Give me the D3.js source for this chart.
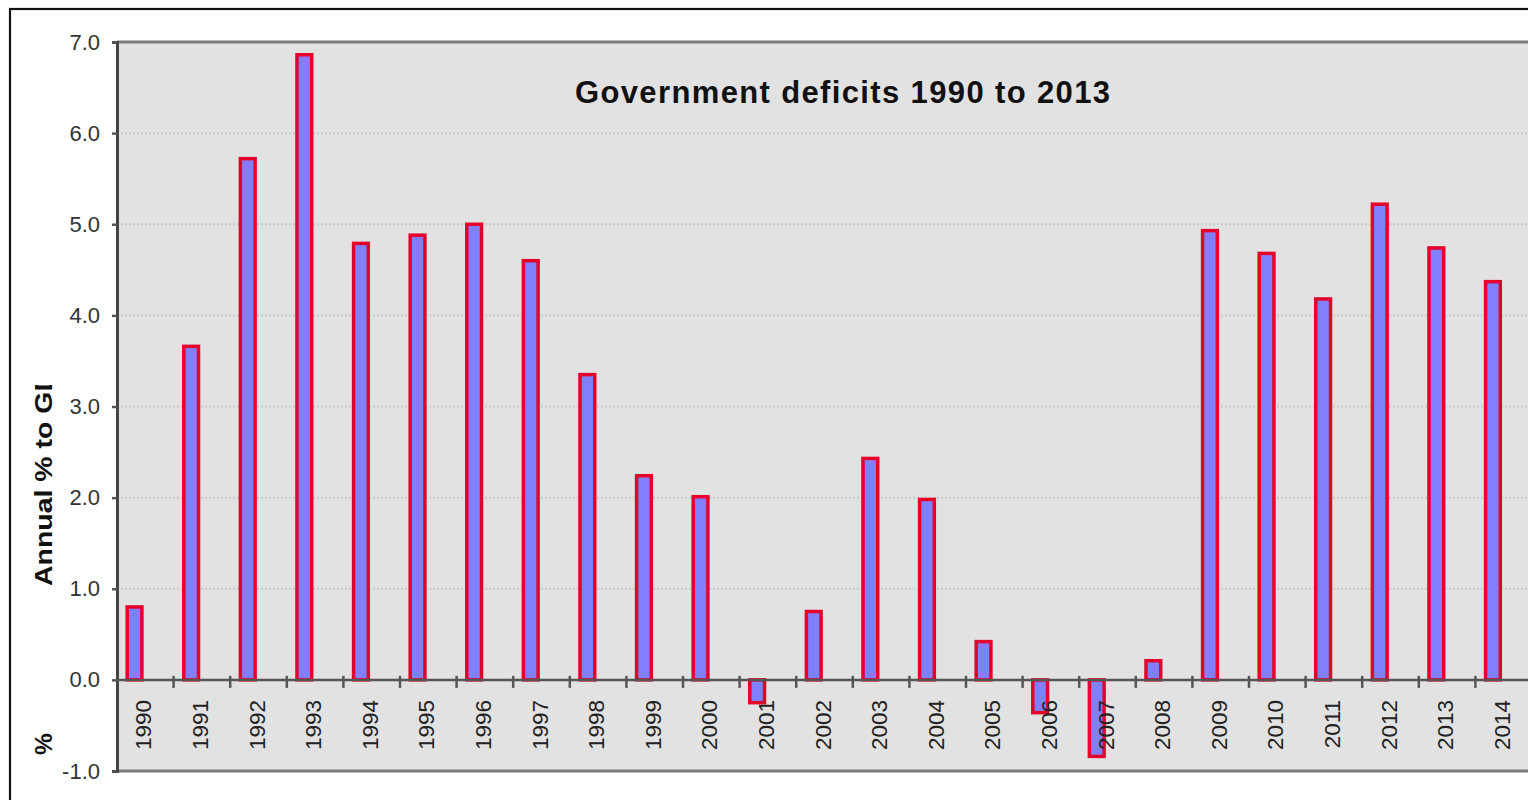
<!DOCTYPE html>
<html>
<head>
<meta charset="utf-8">
<script src="https://cdn.jsdelivr.net/npm/d3@7"></script>
<style>
  html, body { margin: 0; padding: 0; background: #fff; }
  svg { display: block; }
  text { font-family: "Liberation Sans", Arial, sans-serif; }
</style>
</head>
<body>
<svg id="chart" width="1528" height="800"></svg>
<script>
// Annual government deficit, % of GDP
const years = ["1990","1991","1992","1993","1994","1995","1996","1997","1998","1999",
               "2000","2001","2002","2003","2004","2005","2006","2007","2008","2009",
               "2010","2011","2012","2013","2014"];
const deficits = [0.80, 3.66, 5.72, 6.86, 4.79, 4.88, 5.00, 4.60, 3.35, 2.24,
                  2.01, -0.25, 0.75, 2.43, 1.98, 0.42, -0.36, -0.84, 0.21, 4.93,
                  4.68, 4.18, 5.22, 4.74, 4.37];
const yTicks = [-1, 0, 1, 2, 3, 4, 5, 6, 7];
const titleText = "Government deficits 1990 to 2013";
const yTitleText = "Annual % to GDP";
const yUnitText = "%";

const svg = d3.select("#chart");

const plot = { left: 117, top: 42, right: 1532, bottom: 771 };

const x = d3.scaleBand().domain(years).range([plot.left, plot.right]).padding(0);
const y = d3.scaleLinear().domain([-1, 7]).range([plot.bottom, plot.top]);
const bw = x.bandwidth();

// outer chart frame
svg.append("rect")
  .attr("x", 10).attr("y", 9).attr("width", 1540).attr("height", 820)
  .attr("fill", "#fff").attr("stroke", "#111").attr("stroke-width", 2.2);

// plot area
svg.append("rect")
  .attr("x", plot.left).attr("y", plot.top)
  .attr("width", plot.right - plot.left).attr("height", plot.bottom - plot.top)
  .attr("fill", "#e2e2e2");

// dotted gridlines
svg.append("g")
  .selectAll("line")
  .data(yTicks.filter(v => v > -1 && v < 7 && v !== 0))
  .join("line")
  .attr("x1", plot.left).attr("x2", plot.right)
  .attr("y1", d => y(d)).attr("y2", d => y(d))
  .attr("stroke", "#c9c9c9").attr("stroke-width", 2)
  .attr("stroke-dasharray", "2,2");

// plot border top / bottom
svg.append("g").selectAll("line")
  .data([7, -1])
  .join("line")
  .attr("x1", plot.left).attr("x2", plot.right + 5)
  .attr("y1", d => y(d)).attr("y2", d => y(d))
  .attr("stroke", "#7a7a7a").attr("stroke-width", 3);

// bars
svg.append("g")
  .selectAll("rect")
  .data(years.map((yr, i) => ({ yr, v: deficits[i] })))
  .join("rect")
  .attr("x", d => x(d.yr) + bw * 0.18)
  .attr("width", bw * 0.26)
  .attr("y", d => y(Math.max(0, d.v)))
  .attr("height", d => Math.abs(y(d.v) - y(0)))
  .attr("fill", "#8080ff")
  .attr("stroke", "#e5002b")
  .attr("stroke-width", 3.5);

// y axis
const fmt = d3.format(".1f");
const yAxis = d3.axisLeft(y).tickValues(yTicks)
  .tickFormat(d => fmt(d).replace("\u2212", "-"))
  .tickSize(5).tickPadding(12);
const gy = svg.append("g").attr("transform", `translate(${plot.left},0)`).call(yAxis);
gy.select(".domain").attr("stroke", "#444").attr("stroke-width", 3);
gy.selectAll(".tick line").attr("stroke", "#555").attr("stroke-width", 2.5);
gy.selectAll(".tick text")
  .attr("fill", "#333").attr("font-size", 22);

// x axis along zero line
const zeroY = y(0);
svg.append("line")
  .attr("x1", plot.left).attr("x2", plot.right + 5)
  .attr("y1", zeroY).attr("y2", zeroY)
  .attr("stroke", "#555").attr("stroke-width", 2.5);

// category separators
svg.append("g").selectAll("line")
  .data(years.slice(1))
  .join("line")
  .attr("x1", d => x(d)).attr("x2", d => x(d))
  .attr("y1", zeroY - 4).attr("y2", zeroY + 8)
  .attr("stroke", "#555").attr("stroke-width", 2.5);

// year labels, rotated
svg.append("g").selectAll("text")
  .data(years)
  .join("text")
  .attr("transform", d => `translate(${x(d) + bw / 2 - 2},${zeroY + 20}) rotate(-90)`)
  .attr("text-anchor", "end")
  .attr("dy", "0.36em")
  .attr("font-size", 22.5)
  .attr("fill", "#222")
  .text(d => d);

// title
svg.append("text")
  .attr("x", 575).attr("y", 103)
  .attr("font-size", 31).attr("font-weight", "bold")
  .attr("fill", "#111")
  .attr("textLength", 535).attr("lengthAdjust", "spacing")
  .text(titleText);

// y axis title, cut off where its box ends
svg.append("clipPath").attr("id", "ytitle-clip")
  .append("rect").attr("x", 0).attr("y", 385).attr("width", 110).attr("height", 400);
svg.append("g")
  .attr("clip-path", "url(#ytitle-clip)")
  .append("text")
  .attr("transform", "translate(52,586) rotate(-90)")
  .attr("font-size", 24.5).attr("font-weight", "bold")
  .attr("fill", "#111")
  .attr("textLength", 234).attr("lengthAdjust", "spacingAndGlyphs")
  .text(yTitleText);
svg.append("text")
  .attr("transform", "translate(52,755) rotate(-90)")
  .attr("font-size", 24.5).attr("font-weight", "bold")
  .attr("fill", "#111")
  .text(yUnitText);
</script>
</body>
</html>
